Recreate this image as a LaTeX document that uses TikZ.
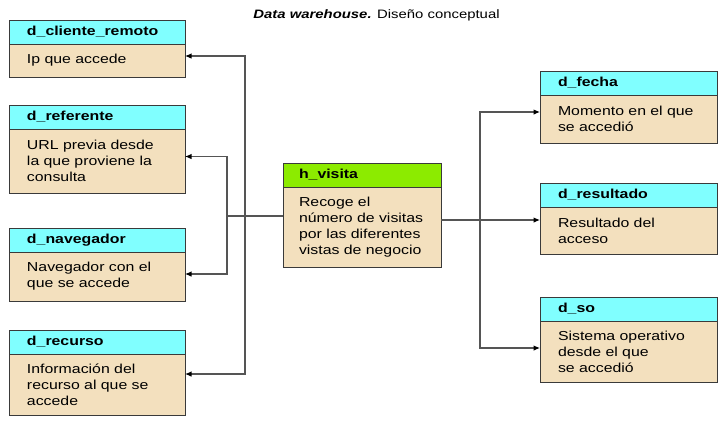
\documentclass[tikz,border=0pt]{standalone}
\usepackage{fontspec}
\setmainfont[FakeStretch=1.22]{Liberation Sans}
\usetikzlibrary{arrows.meta, positioning}
\definecolor{cabeza}{HTML}{80FFFF}
\definecolor{hechoverde}{HTML}{8CEB00}
\definecolor{fondo}{HTML}{F3E0BE}
\definecolor{borde}{HTML}{3A3A3A}
\definecolor{gris}{HTML}{555555}
\tikzset{
  cab/.style={rectangle, draw=borde, fill=cabeza, line width=1pt,
    font=\fontsize{13pt}{16pt}\selectfont\bfseries, text width=140pt,
    align=left, inner xsep=18pt, inner ysep=0pt, minimum height=24pt,
    anchor=north west, outer sep=0pt},
  cabhecho/.style={cab, fill=hechoverde, text width=126pt, inner xsep=16pt},
  caja/.style={rectangle, draw=borde, fill=fondo, line width=1pt,
    font=\fontsize{13pt}{16pt}\selectfont, text width=140pt,
    align=left, inner xsep=18pt, inner ysep=0pt, outer sep=0pt},
  cajahecho/.style={caja, text width=126pt, inner xsep=16pt},
  linea/.style={line width=1.1pt, color=gris},
  flecha/.style={linea, -{Latex[length=6.5pt, width=5.5pt, color=black]}},
  titulo/.style={font=\fontsize{12.2pt}{14pt}\selectfont},
}
\begin{document}
\begin{tikzpicture}[x=1pt, y=-1pt, node distance=0pt]
  \useasboundingbox (0,0) rectangle (725,424);
  \node[titulo] (tit) at (376.5,15) {\textbf{\itshape Data warehouse.} Diseño conceptual};

  % dimensiones de la izquierda
  \node[cab] (cliente_cab) at (9,20) {d\_cliente\_remoto};
  \node[caja, minimum height=33pt, below=of cliente_cab] (cliente) {Ip que accede};
  \node[cab] (referente_cab) at (9,105) {d\_referente};
  \node[caja, minimum height=64pt, below=of referente_cab] (referente)
    {URL previa desde\\ la que proviene la\\ consulta};
  \node[cab] (navegador_cab) at (9,228) {d\_navegador};
  \node[caja, minimum height=49pt, below=of navegador_cab] (navegador)
    {Navegador con el\\ que se accede};
  \node[cab] (recurso_cab) at (9,330) {d\_recurso};
  \node[caja, minimum height=61pt, below=of recurso_cab] (recurso)
    {Información del\\ recurso al que se\\ accede};

  % hecho
  \node[cabhecho] (visita_cab) at (283,163) {h\_visita};
  \node[cajahecho, minimum height=80pt, below=of visita_cab] (visita)
    {Recoge el\\ número de visitas\\ por las diferentes\\ vistas de negocio};

  % dimensiones de la derecha
  \node[cab, text width=141pt] (fecha_cab) at (540,71) {d\_fecha};
  \node[caja, text width=141pt, minimum height=48pt, below=of fecha_cab] (fecha)
    {Momento en el que\\ se accedió};
  \node[cab, text width=141pt] (resultado_cab) at (540,183) {d\_resultado};
  \node[caja, text width=141pt, minimum height=47pt, below=of resultado_cab] (resultado)
    {Resultado del\\ acceso};
  \node[cab, text width=141pt] (so_cab) at (540,297) {d\_so};
  \node[caja, text width=141pt, minimum height=61pt, below=of so_cab] (so)
    {Sistema operativo\\ desde el que\\ se accedió};

  \coordinate (nudo_izq) at (227,216);
  \coordinate (nudo_med) at (245,216);
  \coordinate (nudo_der) at (480,220);

  \draw[linea] (visita.west |- nudo_izq) -- (nudo_izq);
  \draw[flecha] (nudo_med) |- ([yshift=4.5pt]cliente.east);
  \draw[flecha] (nudo_med) |- ([yshift=10.5pt]recurso.east);
  \draw[flecha] (nudo_izq) |- ([yshift=4.5pt]referente.east);
  \draw[flecha] (nudo_izq) |- ([yshift=2.5pt]navegador.east);

  \draw[linea] (visita.east |- nudo_der) -- (nudo_der);
  \draw[flecha] (nudo_der) -- (resultado.west |- nudo_der);
  \draw[flecha] (nudo_der) |- ([yshift=7pt]fecha.west);
  \draw[flecha] (nudo_der) |- ([yshift=3.5pt]so.west);
\end{tikzpicture}
\end{document}
